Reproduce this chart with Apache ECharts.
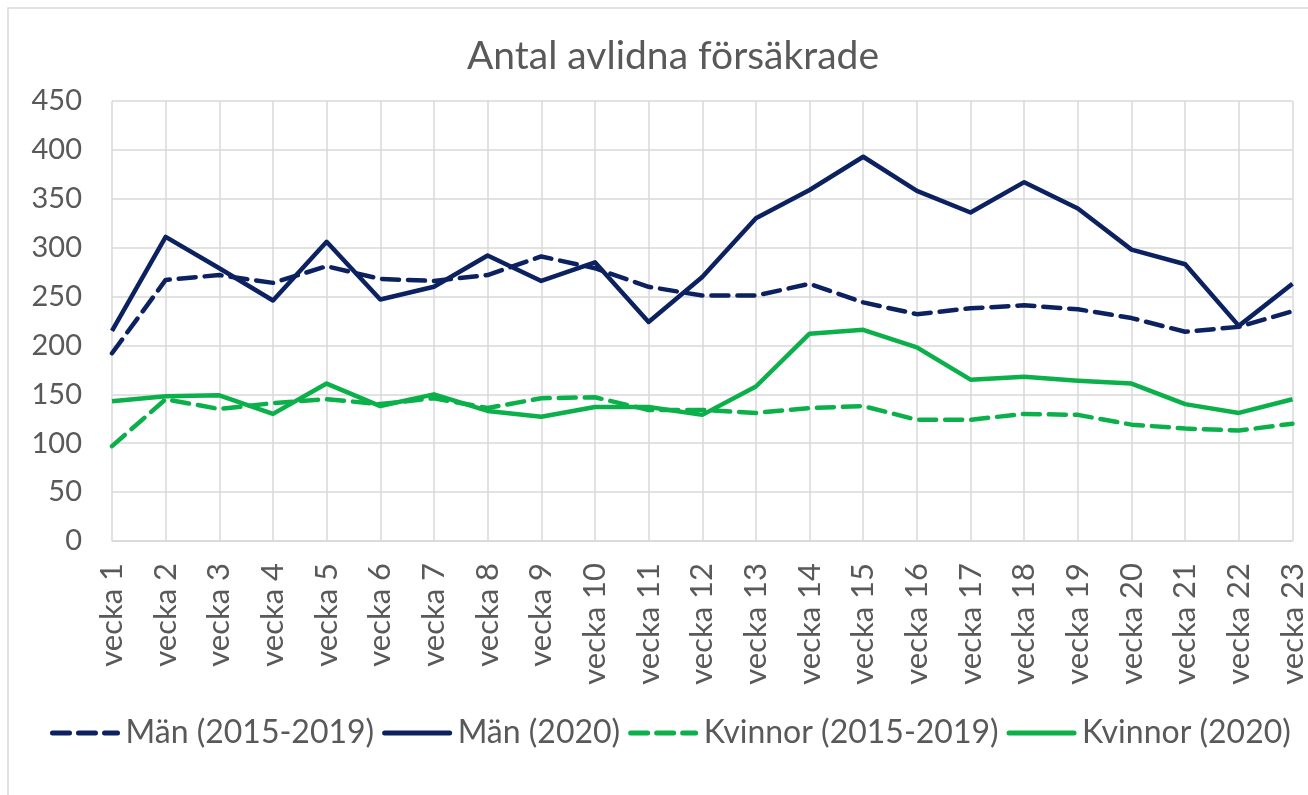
<!DOCTYPE html>
<html>
<head>
<meta charset="utf-8">
<script src="https://cdn.jsdelivr.net/npm/echarts@6/dist/echarts.min.js"></script>
<style>
  html, body { margin: 0; padding: 0; background: #fff; }
  #chart { width: 1308px; height: 795px; }
</style>
</head>
<body>
<div id="chart"></div>
<script>
// Weeks on the x axis
const weeks = ['vecka 1', 'vecka 2', 'vecka 3', 'vecka 4', 'vecka 5', 'vecka 6', 'vecka 7', 'vecka 8',
    'vecka 9', 'vecka 10', 'vecka 11', 'vecka 12', 'vecka 13', 'vecka 14', 'vecka 15', 'vecka 16',
    'vecka 17', 'vecka 18', 'vecka 19', 'vecka 20', 'vecka 21', 'vecka 22', 'vecka 23'];

// Series values
const menAvg = [192, 267, 272, 264, 281, 268, 266, 272, 291, 279, 260, 251, 251, 263, 244, 232,
    238, 241, 237, 228, 214, 219, 235];
const men2020 = [215, 311, 279, 246, 306, 247, 260, 292, 266, 285, 224, 270, 330, 359, 393, 358,
    336, 367, 340, 298, 283, 220, 263];
const womenAvg = [97, 145, 135, 141, 145, 140, 146, 136, 146, 147, 134, 134, 131, 136, 138, 124,
    124, 130, 129, 119, 115, 113, 120];
const women2020 = [143, 148, 149, 130, 161, 138, 150, 133, 127, 137, 137, 129, 158, 212, 216, 198,
    165, 168, 164, 161, 140, 131, 145];

const navy = '#0c2160';
const green = '#0bb04b';
const textColor = '#595959';
const gridColor = '#d9d9d9';
const font = 'Lato';

var chart = echarts.init(document.getElementById('chart'));

function lineSeries(name, data, color, dashed) {
    return {
        name: name,
        type: 'line',
        data: data,
        symbol: 'none',
        lineStyle: {
            color: color,
            width: 4.5,
            type: dashed ? [17, 9] : 'solid',
            cap: dashed ? 'round' : 'butt',
            join: 'round'
        },
        itemStyle: { color: color }
    };
}

const option = {
    backgroundColor: '#fff',
    animation: false,
    title: {
        text: 'Antal avlidna försäkrade',
        left: 462,
        top: 32,
        textStyle: { fontFamily: font, fontSize: 39, fontWeight: 'normal', color: textColor }
    },
    // outer chart frame
    graphic: [{
        type: 'rect',
        shape: { x: 8, y: 8, width: 1400, height: 900 },
        style: { fill: 'none', stroke: gridColor, lineWidth: 1.5 },
        silent: true
    }],
    legend: {
        left: 45,
        top: 712,
        width: 1290,
        itemWidth: 65,
        itemHeight: 18,
        itemGap: 8,
        itemStyle: { opacity: 0 },
        lineStyle: { width: 5, cap: 'round' },
        textStyle: { fontFamily: font, fontSize: 32, color: textColor, padding: [0, 0, 0, 3] }
    },
    grid: { left: 112, right: 8, top: 101, bottom: 254 },
    xAxis: {
        type: 'category',
        data: weeks,
        boundaryGap: false,
        axisLine: { lineStyle: { color: gridColor, width: 1.5 } },
        axisTick: { show: false },
        splitLine: { show: true, lineStyle: { color: gridColor, width: 1.5 } },
        axisLabel: {
            rotate: 90,
            margin: 22,
            interval: 0,
            fontFamily: font,
            fontSize: 31,
            color: textColor
        }
    },
    yAxis: {
        type: 'value',
        min: 0,
        max: 450,
        interval: 50,
        axisLine: { show: false },
        axisTick: { show: false },
        splitLine: { lineStyle: { color: gridColor, width: 1.5 } },
        axisLabel: { margin: 30, fontFamily: font, fontSize: 29, color: textColor }
    },
    series: [
        lineSeries('Män (2015-2019)', menAvg, navy, true),
        lineSeries('Män (2020)', men2020, navy, false),
        lineSeries('Kvinnor (2015-2019)', womenAvg, green, true),
        lineSeries('Kvinnor (2020)', women2020, green, false)
    ]
};

chart.setOption(option);
</script>
</body>
</html>
